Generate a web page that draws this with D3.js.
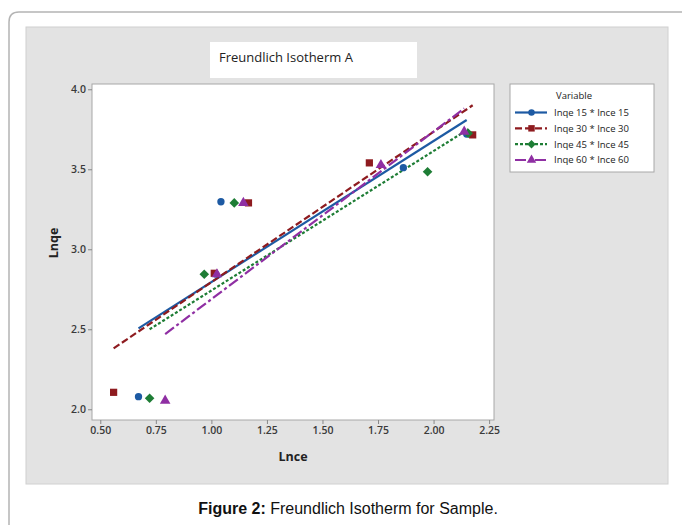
<!DOCTYPE html>
<html>
<head>
<meta charset="utf-8">
<script src="https://cdn.jsdelivr.net/npm/d3@7"></script>
<style>
    body { margin: 0; background: #fff; }
    svg { display: block; }
</style>
</head>
<body>
<script>
// Values (Lnce on x, Lnqe on y)
var seriesNames = ["Inqe 15 * Ince 15", "Inqe 30 * Ince 30",
                   "Inqe 45 * Ince 45", "Inqe 60 * Ince 60"];
var lnce15 = [0.672, 1.020, 1.043, 1.864, 2.149];
var lnqe15 = [2.079, 2.845, 3.297, 3.510, 3.720];
var lnce30 = [0.560, 1.013, 1.167, 1.711, 2.176];
var lnqe30 = [2.106, 2.850, 3.290, 3.540, 3.715];
var lnce45 = [0.722, 0.968, 1.103, 1.973, 2.156];
var lnqe45 = [2.069, 2.844, 3.290, 3.485, 3.725];
var lnce60 = [0.792, 1.025, 1.144, 1.763, 2.138];
var lnqe60 = [2.054, 2.844, 3.290, 3.527, 3.735];

// fitted lines: [start, end]
var fitX = [[0.672, 2.149], [0.560, 2.176], [0.722, 2.156], [0.792, 2.138]];
var fitY = [[2.506, 3.808], [2.381, 3.900], [2.500, 3.750], [2.470, 3.880]];

var xTicks = [0.50, 0.75, 1.00, 1.25, 1.50, 1.75, 2.00, 2.25];
var yTicks = [2.0, 2.5, 3.0, 3.5, 4.0];

var colors = ["#1d5aa3", "#8e1b1f", "#1e7d35", "#8f2fa3"];
var dashes = [null, "7,3", "3,2", "11,3,3,3"];
var symbols = [d3.symbolCircle, d3.symbolSquare, d3.symbolSquare,
               d3.symbolTriangle];
var symSize = [42, 52, 46, 48];
var symRot = [0, 0, 45, 0];

var xs = [lnce15, lnce30, lnce45, lnce60];
var ys = [lnqe15, lnqe30, lnqe45, lnqe60];

var W = 683, H = 525;
var svg = d3.select("body").append("svg")
    .attr("width", W)
    .attr("height", H);

// outer figure frame
svg.append("path")
    .attr("d", "M9,540 L9,22 Q9,12 19,12 L682,12")
    .attr("fill", "none")
    .attr("stroke", "#b4b4b4")
    .attr("stroke-width", 1.5);

// grey graph region
svg.append("rect")
    .attr("x", 26).attr("y", 27)
    .attr("width", 642).attr("height", 457)
    .attr("fill", "#e3e3e3")
    .attr("stroke", "#d0d0d0");

// title box
svg.append("rect")
    .attr("x", 210).attr("y", 42)
    .attr("width", 207).attr("height", 36)
    .attr("fill", "#fff");
svg.append("text")
    .attr("x", 219).attr("y", 62)
    .attr("font-family", "Open Sans")
    .attr("font-size", "13px")
    .attr("fill", "#222")
    .text("Freundlich Isotherm A");

// plot area
var plot = {left: 92, top: 84, right: 494, bottom: 420};
var xScale = d3.scaleLinear()
    .domain([0.4627, 2.272])
    .range([plot.left, plot.right]);
var yScale = d3.scaleLinear()
    .domain([1.933, 4.033])
    .range([plot.bottom, plot.top]);

svg.append("rect")
    .attr("x", plot.left).attr("y", plot.top)
    .attr("width", plot.right - plot.left)
    .attr("height", plot.bottom - plot.top)
    .attr("fill", "#fff")
    .attr("stroke", "#a8a8a8");

var xAxis = d3.axisBottom(xScale)
    .tickValues(xTicks)
    .tickFormat(d3.format(".2f"))
    .tickSize(4).tickPadding(3);
var yAxis = d3.axisLeft(yScale)
    .tickValues(yTicks)
    .tickFormat(d3.format(".1f"))
    .tickSize(4).tickPadding(2);

var gx = svg.append("g")
    .attr("transform", "translate(0," + plot.bottom + ")")
    .call(xAxis);
var gy = svg.append("g")
    .attr("transform", "translate(" + plot.left + ",0)")
    .call(yAxis);
[gx, gy].forEach(function(g) {
    g.select(".domain").remove();
    g.selectAll("line").attr("stroke", "#888");
    g.selectAll("text")
        .attr("font-family", "Open Sans")
        .attr("font-size", "10.5px")
        .attr("font-weight", 600)
        .attr("fill", "#3a3a3a");
});

// axis titles
svg.append("text")
    .attr("x", 293).attr("y", 461)
    .attr("text-anchor", "middle")
    .attr("font-family", "Open Sans")
    .attr("font-weight", "bold")
    .attr("font-size", "12.5px")
    .attr("fill", "#222")
    .text("Lnce");
svg.append("text")
    .attr("transform", "translate(58,243) rotate(-90)")
    .attr("text-anchor", "middle")
    .attr("font-family", "Open Sans")
    .attr("font-weight", "bold")
    .attr("font-size", "12.5px")
    .attr("fill", "#222")
    .text("Lnqe");

// fitted lines
var line = d3.line()
    .x(function(d) { return xScale(d[0]); })
    .y(function(d) { return yScale(d[1]); });

fitX.forEach(function(fx, i) {
    svg.append("path")
        .datum(d3.zip(fx, fitY[i]))
        .attr("d", line)
        .attr("fill", "none")
        .attr("stroke", colors[i])
        .attr("stroke-width", 2.2)
        .attr("stroke-dasharray", dashes[i]);
});

// points
xs.forEach(function(xv, i) {
    svg.append("g").selectAll("path")
        .data(d3.zip(xv, ys[i]))
        .enter()
        .append("path")
        .attr("transform", function(d) {
            return "translate(" + xScale(d[0]) + "," + yScale(d[1]) +
                ") rotate(" + symRot[i] + ")";
        })
        .attr("d", d3.symbol().type(symbols[i]).size(symSize[i]))
        .attr("fill", colors[i]);
});

// legend
var lg = svg.append("g");
lg.append("rect")
    .attr("x", 510).attr("y", 84)
    .attr("width", 144).attr("height", 88)
    .attr("fill", "#fff")
    .attr("stroke", "#a8a8a8");
lg.append("text")
    .attr("x", 574).attr("y", 99)
    .attr("text-anchor", "middle")
    .attr("font-family", "Open Sans")
    .attr("font-size", "9.5px")
    .attr("fill", "#222")
    .text("Variable");

var legendY = d3.scalePoint()
    .domain(seriesNames)
    .range([112.5, 160]);

seriesNames.forEach(function(name, i) {
    var y = legendY(name);
    lg.append("line")
        .attr("x1", 515).attr("x2", 547)
        .attr("y1", y).attr("y2", y)
        .attr("stroke", colors[i])
        .attr("stroke-width", 2.2)
        .attr("stroke-dasharray", dashes[i]);
    lg.append("path")
        .attr("transform", "translate(531.5," + y + ") rotate(" +
            symRot[i] + ")")
        .attr("d", d3.symbol().type(symbols[i]).size(symSize[i] * 0.8))
        .attr("fill", colors[i]);
    lg.append("text")
        .attr("x", 554).attr("y", y + 3.4)
        .attr("font-family", "Open Sans")
        .attr("font-size", "9.5px")
        .attr("fill", "#222")
        .text(name);
});

// caption
var cap = svg.append("text")
    .attr("x", 348).attr("y", 514)
    .attr("text-anchor", "middle")
    .attr("font-family", "Liberation Sans, Arial")
    .attr("font-size", "16px")
    .attr("fill", "#111");
cap.append("tspan").attr("font-weight", "bold").text("Figure 2:");
cap.append("tspan").text(" Freundlich Isotherm for Sample.");
</script>
</body>
</html>
